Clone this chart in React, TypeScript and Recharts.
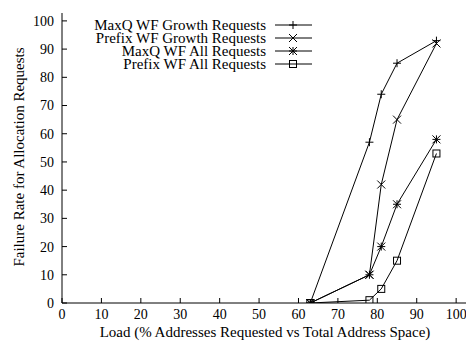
import React from "react";
import { LineChart, Line, XAxis, YAxis } from "recharts";

const loads = [63, 78, 81, 85, 95];
const maxqGrowth = [0, 57, 74, 85, 93];
const prefixGrowth = [0, 10, 42, 65, 92];
const maxqAll = [0, 10, 20, 35, 58];
const prefixAll = [0, 1, 5, 15, 53];

const xTicks = [0, 10, 20, 30, 40, 50, 60, 70, 80, 90, 100];
const yTicks = [0, 10, 20, 30, 40, 50, 60, 70, 80, 90, 100];

const seriesNames = [
  "MaxQ WF Growth Requests",
  "Prefix WF Growth Requests",
  "MaxQ WF All Requests",
  "Prefix WF All Requests",
];
const seriesKeys = ["maxqGrowth", "prefixGrowth", "maxqAll", "prefixAll"];
const seriesMarkers = ["plus", "cross", "star", "square"];

const rows = loads.map((x, i) => ({
  x,
  maxqGrowth: maxqGrowth[i],
  prefixGrowth: prefixGrowth[i],
  maxqAll: maxqAll[i],
  prefixAll: prefixAll[i],
}));

const FONT = "Liberation Serif";
const INK = "#000";

function Marker({ kind, cx, cy }: { kind: string; cx: number; cy: number }) {
  const s = 4;
  const st = { stroke: INK, strokeWidth: 1, fill: "none" };
  if (kind === "plus") {
    return (
      <g {...st}>
        <line x1={cx - s} y1={cy} x2={cx + s} y2={cy} />
        <line x1={cx} y1={cy - s} x2={cx} y2={cy + s} />
      </g>
    );
  }
  if (kind === "cross") {
    return (
      <g {...st}>
        <line x1={cx - s} y1={cy - s} x2={cx + s} y2={cy + s} />
        <line x1={cx - s} y1={cy + s} x2={cx + s} y2={cy - s} />
      </g>
    );
  }
  if (kind === "star") {
    return (
      <g {...st}>
        <line x1={cx - s} y1={cy} x2={cx + s} y2={cy} />
        <line x1={cx} y1={cy - s} x2={cx} y2={cy + s} />
        <line x1={cx - s} y1={cy - s} x2={cx + s} y2={cy + s} />
        <line x1={cx - s} y1={cy + s} x2={cx + s} y2={cy - s} />
      </g>
    );
  }
  return <rect x={cx - 3.5} y={cy - 3.5} width={7} height={7} {...st} />;
}

const makeDot = (kind: string) => (props: any) => {
  const { cx, cy, index } = props;
  if (cx == null || cy == null) return <g key={index} />;
  return (
    <g key={`${kind}-${index}`}>
      <Marker kind={kind} cx={cx} cy={cy} />
    </g>
  );
};

const tickStyle = { fontFamily: FONT, fontSize: 14, fill: INK };
const textStyle = { fontFamily: FONT };

export default function App() {
  return (
    <div style={{ position: "absolute", left: 0, top: 0, width: 466, height: 341, background: "#fff", overflow: "hidden", fontFamily: FONT }}>
      <LineChart
        width={466}
        height={341}
        data={rows}
        margin={{ top: 13, right: 0, bottom: 0, left: 0 }}
      >
        <XAxis
          xAxisId="b"
          dataKey="x"
          type="number"
          domain={[0, 102.5]}
          ticks={xTicks}
          height={38}
          tickSize={-5}
          tickMargin={11}
          axisLine={{ stroke: INK }}
          tickLine={{ stroke: INK }}
          tick={tickStyle}
          interval={0}
          allowDataOverflow
        />
        <XAxis
          xAxisId="t"
          dataKey="x"
          type="number"
          orientation="top"
          domain={[0, 102.5]}
          ticks={xTicks}
          height={0}
          tickSize={-5}
          axisLine={{ stroke: INK }}
          tickLine={{ stroke: INK }}
          tick={false}
          interval={0}
          allowDataOverflow
        />
        <YAxis
          yAxisId="l"
          type="number"
          domain={[0, 102.8]}
          ticks={yTicks}
          width={62}
          tickSize={-5}
          tickMargin={13}
          axisLine={{ stroke: INK }}
          tickLine={{ stroke: INK }}
          tick={tickStyle}
          interval={0}
          allowDataOverflow
        />
        <YAxis
          yAxisId="r"
          type="number"
          orientation="right"
          domain={[0, 102.8]}
          ticks={yTicks}
          width={0}
          tickSize={-5}
          axisLine={{ stroke: INK }}
          tickLine={{ stroke: INK }}
          tick={false}
          interval={0}
          allowDataOverflow
        />
        {seriesKeys.map((k, i) => (
          <Line
            key={k}
            xAxisId="b"
            yAxisId="l"
            dataKey={k}
            type="linear"
            stroke={INK}
            strokeWidth={1}
            dot={makeDot(seriesMarkers[i])}
            activeDot={false}
            isAnimationActive={false}
          />
        ))}
      </LineChart>
      <svg
        width={466}
        height={341}
        style={{ position: "absolute", left: 0, top: 0, pointerEvents: "none", fontFamily: FONT }}
      >
        <text
          x={265}
          y={337}
          textAnchor="middle"
          fontSize={15}
          fill={INK}
          style={textStyle}
        >
          Load (% Addresses Requested vs Total Address Space)
        </text>
        <text
          transform="translate(24,157) rotate(-90)"
          textAnchor="middle"
          fontSize={15}
          fill={INK}
          style={textStyle}
        >
          Failure Rate for Allocation Requests
        </text>
        {seriesNames.map((name, i) => {
          const y = 25 + i * 13;
          return (
            <g key={name}>
              <text
                x={266}
                y={y + 4.5}
                textAnchor="end"
                fontSize={15}
                fill={INK}
                style={textStyle}
              >
                {name}
              </text>
              <line x1={275} y1={y} x2={312} y2={y} stroke={INK} strokeWidth={1} />
              <Marker kind={seriesMarkers[i]} cx={293} cy={y} />
            </g>
          );
        })}
      </svg>
    </div>
  );
}
